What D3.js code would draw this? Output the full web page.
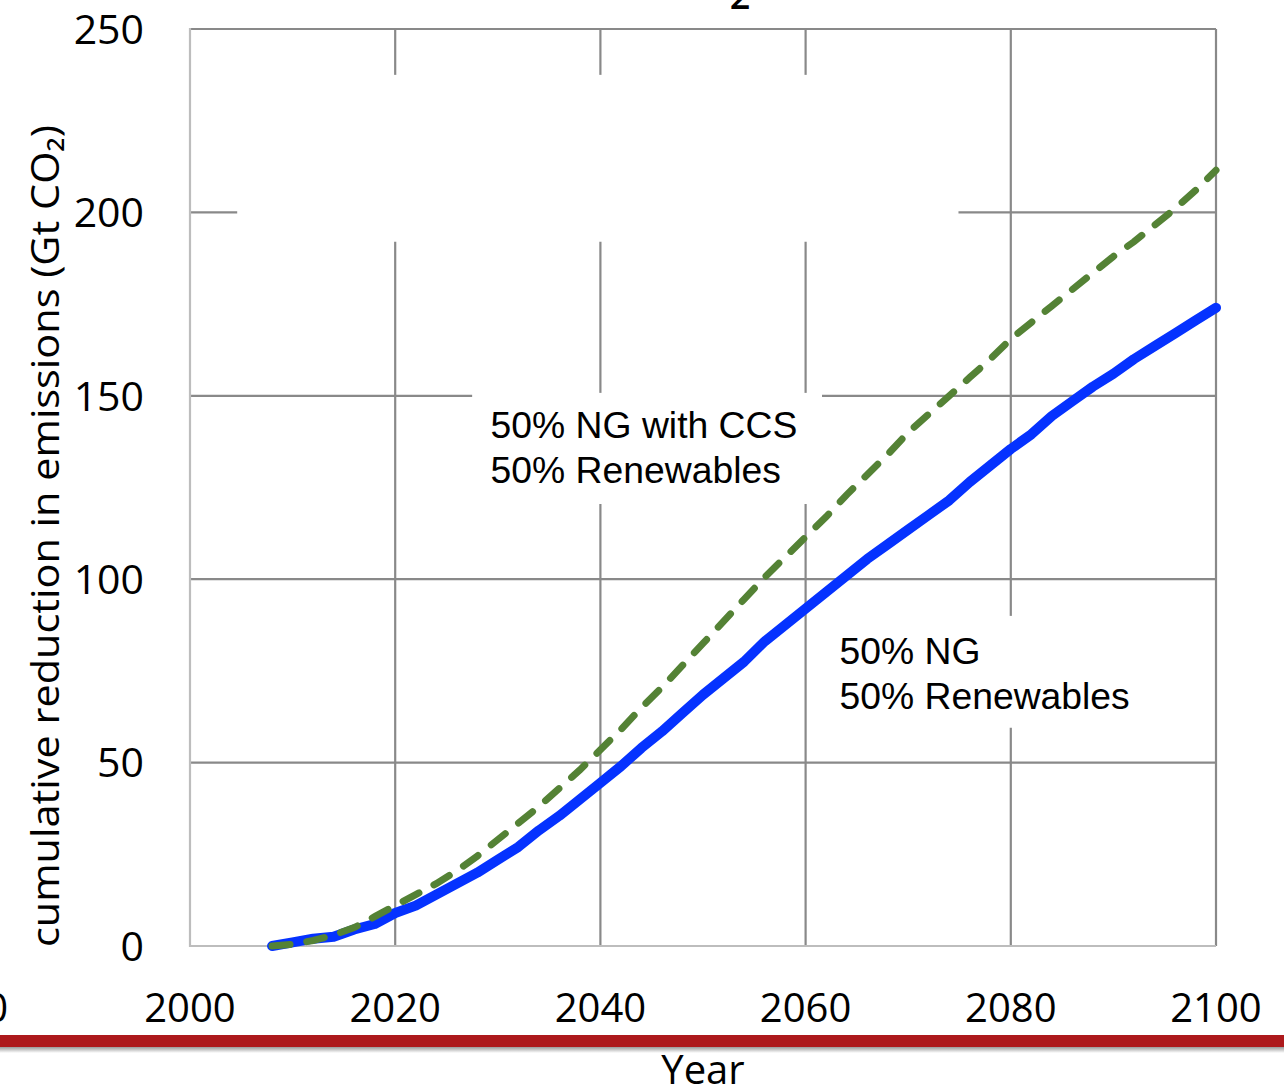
<!DOCTYPE html>
<html><head><meta charset="utf-8">
<script src="https://cdn.jsdelivr.net/npm/d3@7"></script>
<style>
html,body{margin:0;padding:0;background:#fff;overflow:hidden;}
svg{display:block;}
</style></head>
<body>
<svg id="chart" width="1284" height="1091"></svg>
<script>
// ---- data ----
const years = [2008,2010,2012,2014,2016,2018,2020,2022,2024,2026,2028,2030,2032,2034,2036,2038,2040,2042,2044,2046,2048,2050,2052,2054,2056,2058,2060,2062,2064,2066,2068,2070,2072,2074,2076,2078,2080,2082,2084,2086,2088,2090,2092,2094,2096,2098,2100];
const ngRenew = [0,1,2,2.5,4.5,6,9,11,14,17,20,23.5,27,31.5,35.5,40,44.5,49,54,58.5,63.5,68.5,73,77.5,83,87.5,92,96.5,101,105.5,109.5,113.5,117.5,121.5,126.5,131,135.5,139.5,144.5,148.5,152.5,156,160,163.5,167,170.5,174];
const ngCcsRenew = [0,0.5,1.5,3,5,8,11,14,17,20.5,24.5,29,33.5,38,43,48,53.5,59,65,70.5,76.5,82.5,88.5,94.5,100.5,106,111.5,117,123,128.5,134,140,145,150,155,160,165.5,170,174.5,179,183.5,188,192,196.5,201,206,211.5];
const xTicks = [2000,2020,2040,2060,2080,2100];
const yTicks = [0,50,100,150,200,250];
const seriesNames = ["50% NG|50% Renewables", "50% NG with CCS|50% Renewables"];
const yTitle = "cumulative reduction in emissions (Gt CO\u2082)";
const xTitle = "Year";

// ---- layout ----
const svg = d3.select("#chart");
const L = 190, R = 1216, T = 29, B = 946;
const x = d3.scaleLinear().domain([2000,2100]).range([L,R]);
const y = d3.scaleLinear().domain([0,250]).range([B,T]);
const font = "'Open Sans', sans-serif";

// clipped title fragment
svg.append("text").attr("x",740).attr("y",9).attr("text-anchor","middle")
  .attr("font-family",font).attr("font-size",36).attr("font-weight",600).attr("fill","#000").text("2");

// grid
const grid = svg.append("g");
grid.selectAll("line.h").data(yTicks.filter(d=>d>0)).join("line")
  .attr("x1",L).attr("x2",R).attr("y1",d=>y(d)).attr("y2",d=>y(d))
  .attr("stroke","#898989").attr("stroke-width",2.2);
grid.selectAll("line.v").data(xTicks.filter(d=>d>2000)).join("line")
  .attr("y1",y(0)).attr("y2",y(250)).attr("x1",d=>x(d)).attr("x2",d=>x(d))
  .attr("stroke","#898989").attr("stroke-width",2.2);
// left / bottom axis lines (lighter)
svg.append("line").attr("x1",x(2000)).attr("x2",x(2000)).attr("y1",y(250)-1).attr("y2",y(0)+1)
  .attr("stroke","#bdbdbd").attr("stroke-width",2.2);
svg.append("line").attr("x1",x(2000)).attr("x2",x(2100)).attr("y1",y(0)).attr("y2",y(0))
  .attr("stroke","#bdbdbd").attr("stroke-width",2.2);

// white boxes (title area & text boxes covering grid)
const boxes = [
  {x0:2004.6, x1:2074.9, y0:237.5, y1:192},
  {x0:2027.5, x1:2061.6, y0:150.8, y1:120.5},
  {x0:2061.4, x1:2098.5, y0:90, y1:59.5}
];
svg.selectAll("rect.box").data(boxes).join("rect").attr("class","box")
  .attr("x",d=>x(d.x0)).attr("width",d=>x(d.x1)-x(d.x0))
  .attr("y",d=>y(d.y0)).attr("height",d=>y(d.y1)-y(d.y0))
  .attr("fill","#fff");

// lines
const line = d3.line().x(d=>x(d[0])).y(d=>y(d[1])).curve(d3.curveLinear);
const blueData = years.map((yr,i)=>[yr,ngRenew[i]]);
const greenData = years.map((yr,i)=>[yr,ngCcsRenew[i]]);
svg.append("path").datum(blueData).attr("d",line).attr("fill","none")
  .attr("stroke","#0532ff").attr("stroke-width",10).attr("stroke-linejoin","round").attr("stroke-linecap","round");
svg.append("path").datum(greenData).attr("d",line).attr("fill","none")
  .attr("stroke","#548235").attr("stroke-width",7).attr("stroke-linecap","round")
  .attr("stroke-dasharray","18,17");

// series labels
const labels = [
  {name:seriesNames[1], x:2029.3, y:138.5},
  {name:seriesNames[0], x:2063.3, y:77}
];
labels.forEach(l=>{
  const t = svg.append("text").attr("font-family","'Liberation Sans', Arial, sans-serif")
    .attr("font-size",37.3).attr("fill","#000");
  l.name.split("|").forEach((s,i)=>{
    t.append("tspan").attr("x",x(l.x)).attr("y",y(l.y)+i*45).text(s);
  });
});

// axes tick labels
svg.append("g").selectAll("text").data(xTicks).join("text")
  .attr("x",d=>x(d)).attr("y",1022).attr("text-anchor","middle")
  .attr("font-family",font).attr("font-size",40).attr("fill","#000").text(d=>d);
svg.append("text").attr("x",8).attr("y",1022).attr("text-anchor","end")
  .attr("font-family",font).attr("font-size",40).attr("fill","#000").text("1980");
svg.append("g").selectAll("text").data(yTicks).join("text")
  .attr("x",144).attr("y",d=>y(d)).attr("dy","0.36em").attr("text-anchor","end")
  .attr("font-family",font).attr("font-size",41).attr("fill","#000").text(d=>d);

// axis titles
svg.append("text").attr("transform","translate(59,536) rotate(-90)")
  .attr("text-anchor","middle").attr("font-family",font).attr("font-size",39)
  .attr("textLength",822).attr("lengthAdjust","spacingAndGlyphs")
  .attr("fill","#000").text(yTitle);
svg.append("text").attr("x",703).attr("y",1084).attr("text-anchor","middle")
  .attr("font-family",font).attr("font-size",40).attr("fill","#000").text(xTitle);

// red bar with shadow
const defs = svg.append("defs");
const g = defs.append("linearGradient").attr("id","shadow").attr("x1",0).attr("x2",0).attr("y1",0).attr("y2",1);
g.append("stop").attr("offset","0%").attr("stop-color","#9a9a9a");
g.append("stop").attr("offset","100%").attr("stop-color","#ffffff");
svg.append("rect").attr("x",0).attr("y",1047).attr("width",1284).attr("height",6).attr("fill","url(#shadow)");
svg.append("rect").attr("x",0).attr("y",1035).attr("width",1284).attr("height",12).attr("fill","#ad191c");
</script>
</body></html>
